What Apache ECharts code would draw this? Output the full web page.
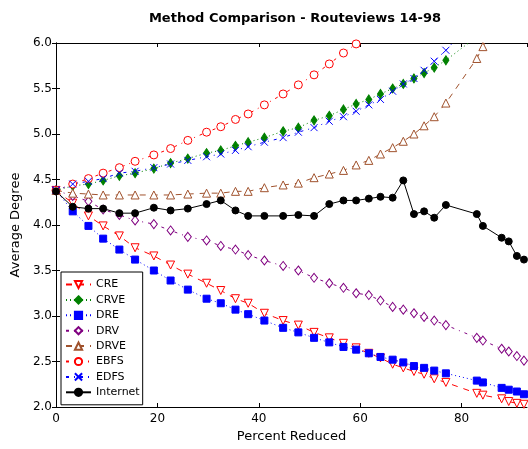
<!DOCTYPE html>
<html>
<head>
<meta charset="utf-8">
<script src="https://cdn.jsdelivr.net/npm/echarts@6/dist/echarts.min.js"></script>
<style>
  html, body { margin: 0; padding: 0; background: #fff; }
  #main { width: 528px; height: 449px; }
</style>
</head>
<body>
<div id="main"></div>
<script>
// percent reduced (shared x positions)
var percent = [0, 3.3, 6.4, 9.3, 12.5, 15.6, 19.3, 22.6, 26.0, 29.7, 32.5, 35.4, 37.9, 41.1, 44.8, 47.8,
    50.9, 53.9, 56.7, 59.2, 61.7, 64.0, 66.4, 68.5, 70.6, 72.6, 74.6, 76.9, 83.0, 84.2, 87.9, 89.3, 90.9, 92.3];

var cre = [4.38, 4.24, 4.10, 3.99, 3.88, 3.75, 3.66, 3.56, 3.46, 3.36, 3.28, 3.19, 3.14, 3.03, 2.95, 2.90,
    2.82, 2.76, 2.70, 2.65, 2.59, 2.54, 2.47, 2.43, 2.39, 2.36, 2.31, 2.27, 2.15, 2.13, 2.09, 2.06, 2.04, 2.03];
var crve = [4.38, 4.43, 4.45, 4.49, 4.54, 4.57, 4.62, 4.68, 4.73, 4.79, 4.82, 4.87, 4.91, 4.96, 5.03, 5.07,
    5.15, 5.20, 5.27, 5.33, 5.38, 5.44, 5.50, 5.55, 5.61, 5.67, 5.73, 5.81, 6.07, null, null, null, null, null];
var dre = [4.38, 4.15, 3.99, 3.85, 3.73, 3.62, 3.50, 3.39, 3.29, 3.19, 3.14, 3.07, 3.02, 2.95, 2.87, 2.82,
    2.76, 2.71, 2.66, 2.63, 2.59, 2.55, 2.52, 2.49, 2.45, 2.43, 2.40, 2.37, 2.29, 2.27, 2.21, 2.19, 2.17, 2.14];
var drv = [4.38, 4.32, 4.26, 4.17, 4.11, 4.05, 4.01, 3.94, 3.87, 3.83, 3.77, 3.73, 3.67, 3.61, 3.55, 3.50,
    3.42, 3.36, 3.31, 3.25, 3.23, 3.17, 3.10, 3.07, 3.03, 2.99, 2.95, 2.90, 2.76, 2.73, 2.64, 2.61, 2.56, 2.51];
var drve = [4.38, 4.35, 4.34, 4.33, 4.33, 4.33, 4.33, 4.33, 4.34, 4.35, 4.35, 4.37, 4.37, 4.41, 4.44, 4.46,
    4.52, 4.56, 4.60, 4.66, 4.71, 4.78, 4.85, 4.92, 5.00, 5.09, 5.19, 5.34, 5.83, 5.96, 6.39, null, null, null];
var ebfs = [4.38, 4.45, 4.51, 4.57, 4.63, 4.70, 4.77, 4.84, 4.93, 5.02, 5.08, 5.16, 5.22, 5.32, 5.44, 5.54,
    5.65, 5.77, 5.89, 5.99, 6.10, null, null, null, null, null, null, null, null, null, null, null, null, null];
var edfs = [4.38, 4.45, 4.48, 4.51, 4.57, 4.59, 4.63, 4.67, 4.71, 4.75, 4.78, 4.82, 4.86, 4.91, 4.96, 5.02,
    5.07, 5.14, 5.19, 5.25, 5.32, 5.38, 5.47, 5.55, 5.61, 5.70, 5.80, 5.92, 6.29, null, null, null, null, null];
var internet = [4.37, 4.20, 4.18, 4.18, 4.13, 4.13, 4.19, 4.16, 4.18, 4.23, 4.27, 4.16, 4.10, 4.10, 4.10, 4.11,
    4.10, 4.23, 4.27, 4.27, 4.29, 4.31, 4.30, 4.49, 4.12, 4.15, 4.08, 4.22, 4.12, 3.99, 3.86, 3.82, 3.66, 3.62];

var xTicks = [0, 20, 40, 60, 80];
var yTicks = [2.0, 2.5, 3.0, 3.5, 4.0, 4.5, 5.0, 5.5, 6.0];

function pairs(ys) {
    return percent.map(function (x, i) { return [x, ys[i]]; });
}

var FONT = 'DejaVu Sans';
var dashDot = [3, 5, 1, 5];

// one helper for the series, matplotlib-ish
function mk(name, ys, color, dash, symbol, size, hollow) {
    return {
        name: name,
        type: 'line',
        data: pairs(ys),
        symbol: symbol,
        symbolSize: size,
        showAllSymbol: true,
        clip: true,
        connectNulls: false,
        lineStyle: { color: color, width: 1, type: dash },
        itemStyle: {
            color: hollow ? '#fff' : color,
            borderColor: color,
            borderWidth: 1
        },
        emphasis: { disabled: true },
        animation: false
    };
}

var triDown = 'path://M0,0L10,0L5,10Z';
var cross = 'path://M0,0L10,10M0,10L10,0';

var chart = echarts.init(document.getElementById('main'));
var option = {
    animation: false,
    textStyle: { fontFamily: FONT },
    title: {
        text: 'Method Comparison - Routeviews 14-98',
        left: 290,
        top: 7,
        textAlign: 'center',
        textStyle: { fontFamily: FONT, fontSize: 13, fontWeight: 'bold', color: '#000' }
    },
    grid: { left: 56, right: 1, top: 43, bottom: 42 },
    legend: {
        orient: 'vertical',
        left: 61,
        top: 272,
        padding: [7, 3, 7, 4],
        itemWidth: 25,
        itemHeight: 9,
        itemGap: 4.4,
        backgroundColor: '#fff',
        borderColor: '#000',
        borderWidth: 1,
        borderRadius: 0,
        textStyle: { fontFamily: FONT, fontSize: 11, color: '#000' },
        data: ['CRE', 'CRVE', 'DRE', 'DRV', 'DRVE', 'EBFS', 'EDFS', 'Internet']
    },
    xAxis: [{
        type: 'value',
        min: 0,
        max: 92.9,
        interval: 20,
        name: 'Percent Reduced',
        nameLocation: 'middle',
        nameGap: 20,
        nameTextStyle: { fontFamily: FONT, fontSize: 13, color: '#000' },
        axisLine: { lineStyle: { color: '#000', width: 1 } },
        axisTick: { inside: true, length: 4, lineStyle: { color: '#000' } },
        axisLabel: {
            fontFamily: FONT, fontSize: 12, color: '#000', margin: 6,
            showMaxLabel: false,
            formatter: function (v) { return xTicks.indexOf(v) >= 0 ? String(v) : ''; }
        },
        splitLine: { show: false }
    }, {
        type: 'value',
        position: 'top',
        min: 0,
        max: 92.9,
        interval: 20,
        axisLine: { lineStyle: { color: '#000', width: 1 } },
        axisTick: { inside: true, length: 4, lineStyle: { color: '#000' } },
        axisLabel: { show: false },
        splitLine: { show: false }
    }],
    yAxis: [{
        type: 'value',
        min: 2,
        max: 6,
        interval: 0.5,
        name: 'Average Degree',
        nameLocation: 'middle',
        nameGap: 27,
        nameTextStyle: { fontFamily: FONT, fontSize: 13, color: '#000' },
        axisLine: { show: true, lineStyle: { color: '#000', width: 1 } },
        axisTick: { show: true, inside: true, length: 4, lineStyle: { color: '#000' } },
        axisLabel: {
            fontFamily: FONT, fontSize: 12, color: '#000', margin: 4,
            formatter: function (v) { return yTicks.indexOf(v) >= 0 ? v.toFixed(1) : ''; }
        },
        splitLine: { show: false }
    }, {
        type: 'value',
        position: 'right',
        min: 2,
        max: 6,
        interval: 0.5,
        axisLine: { show: true, lineStyle: { color: '#000', width: 1 } },
        axisTick: { show: true, inside: true, length: 4, lineStyle: { color: '#000' } },
        axisLabel: { show: false },
        splitLine: { show: false }
    }],
    series: [
        mk('CRE', cre, '#ff0000', [6, 6], triDown, 8, true),
        mk('CRVE', crve, '#008000', [1, 3], 'diamond', [6, 9], false),
        mk('DRE', dre, '#0000ff', [1, 3], 'rect', 7, false),
        mk('DRV', drv, '#800080', dashDot, 'diamond', [7, 9], true),
        mk('DRVE', drve, '#a0522d', [6, 6], 'triangle', 8, true),
        mk('EBFS', ebfs, '#ff0000', dashDot, 'circle', 8, true),
        mk('EDFS', edfs, '#0000ff', dashDot, cross, 7, false),
        mk('Internet', internet, '#000000', 'solid', 'circle', 7, false)
    ]
};
chart.setOption(option);
</script>
</body>
</html>
